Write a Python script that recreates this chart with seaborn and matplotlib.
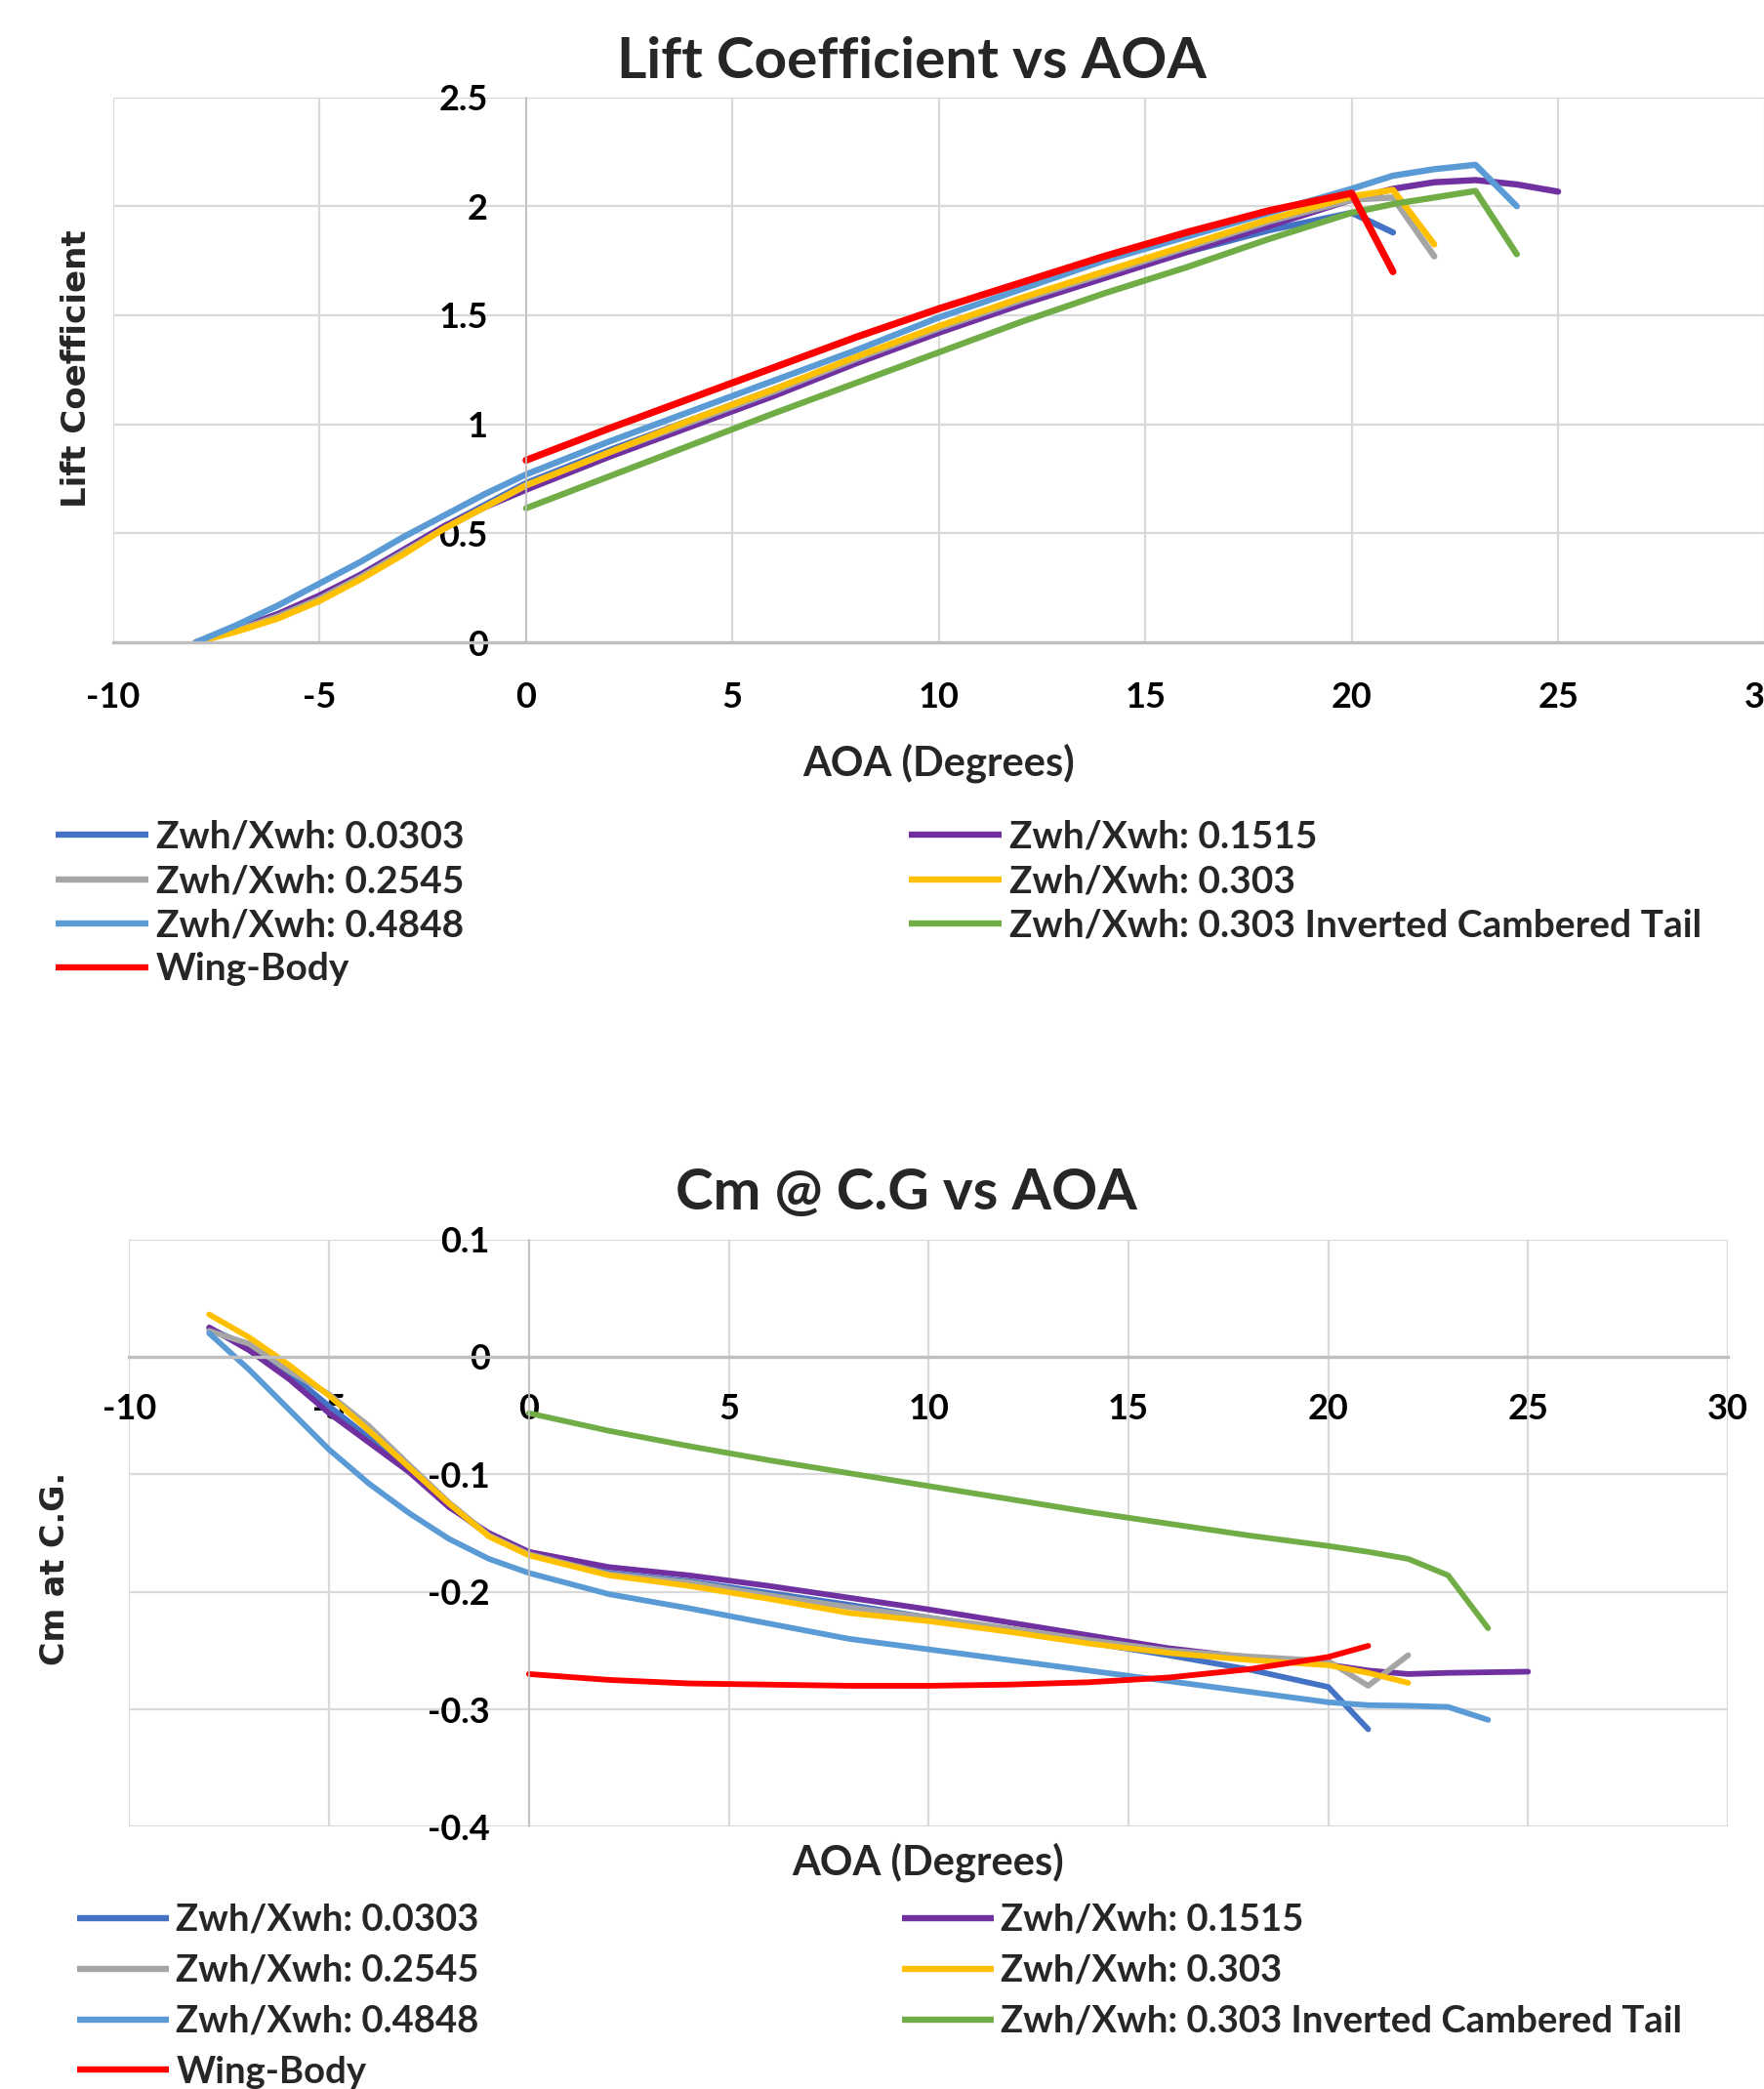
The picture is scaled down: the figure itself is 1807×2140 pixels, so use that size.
import matplotlib
matplotlib.use("Agg")
import matplotlib.pyplot as plt
import seaborn as sns
import pandas as pd

sns.set_theme(style="white")
plt.rcParams['font.family'] = ['Lato', 'DejaVu Sans']
plt.rcParams['font.weight'] = 'bold'
plt.rcParams['axes.unicode_minus'] = False

# ---------------- data ----------------
names = ['Zwh/Xwh: 0.0303', 'Zwh/Xwh: 0.1515', 'Zwh/Xwh: 0.2545', 'Zwh/Xwh: 0.303',
         'Zwh/Xwh: 0.4848', 'Zwh/Xwh: 0.303 Inverted Cambered Tail', 'Wing-Body']
colors = ['#4472C4', '#7030A0', '#A5A5A5', '#FFC000', '#5B9BD5', '#70AD47', '#FF0000']

# AOA grids (degrees); each series uses the leading part of one grid
aoa_tail = [-8, -7, -6, -5, -4, -3, -2, -1, 0, 2, 4, 6, 8, 10, 12, 14, 16, 18, 20, 21, 22, 23, 24, 25]
aoa_zero = [0, 2, 4, 6, 8, 10, 12, 14, 16, 18, 20, 21, 22, 23, 24]

# lift coefficient
cl_0303 = [0, 0.06, 0.13, 0.21, 0.31, 0.42, 0.53, 0.63, 0.73, 0.88, 1.02, 1.16, 1.30, 1.44, 1.56, 1.68, 1.79, 1.89, 1.97, 1.88]
cl_1515 = [0, 0.06, 0.13, 0.215, 0.31, 0.42, 0.53, 0.62, 0.70, 0.85, 0.99, 1.13, 1.28, 1.42, 1.55, 1.67, 1.79, 1.91, 2.03, 2.08, 2.11, 2.12, 2.10, 2.067]
cl_2545 = [0, 0.055, 0.12, 0.20, 0.30, 0.41, 0.52, 0.62, 0.72, 0.87, 1.01, 1.15, 1.30, 1.44, 1.57, 1.69, 1.81, 1.93, 2.03, 2.04, 1.77]
cl_303 = [0, 0.05, 0.11, 0.19, 0.29, 0.40, 0.52, 0.62, 0.72, 0.87, 1.02, 1.16, 1.31, 1.45, 1.58, 1.70, 1.82, 1.94, 2.045, 2.075, 1.825]
cl_4848 = [0, 0.08, 0.17, 0.27, 0.37, 0.48, 0.58, 0.68, 0.77, 0.92, 1.06, 1.20, 1.34, 1.49, 1.62, 1.75, 1.86, 1.97, 2.08, 2.14, 2.17, 2.19, 2.00]
cl_inv = [0.615, 0.76, 0.905, 1.05, 1.19, 1.33, 1.47, 1.60, 1.72, 1.85, 1.97, 2.01, 2.04, 2.07, 1.78]
cl_wb = [0.835, 0.98, 1.12, 1.26, 1.40, 1.53, 1.65, 1.77, 1.88, 1.98, 2.06, 1.70]

# pitching moment at C.G.
cm_0303 = [0.024, 0.009, -0.014, -0.042, -0.069, -0.096, -0.127, -0.152, -0.167, -0.184, -0.191, -0.201, -0.211, -0.222, -0.232, -0.243, -0.254, -0.266, -0.281, -0.317]
cm_1515 = [0.025, 0.0055, -0.019, -0.048, -0.073, -0.098, -0.128, -0.150, -0.166, -0.179, -0.186, -0.195, -0.205, -0.215, -0.226, -0.237, -0.248, -0.256, -0.262, -0.267, -0.270, -0.269, -0.2685, -0.268]
cm_2545 = [0.022, 0.011, -0.012, -0.032, -0.059, -0.092, -0.124, -0.152, -0.168, -0.185, -0.192, -0.203, -0.213, -0.222, -0.231, -0.241, -0.250, -0.255, -0.259, -0.280, -0.254]
cm_303 = [0.036, 0.0165, -0.007, -0.033, -0.063, -0.094, -0.125, -0.153, -0.169, -0.186, -0.195, -0.206, -0.218, -0.225, -0.234, -0.244, -0.252, -0.258, -0.2625, -0.269, -0.2775]
cm_4848 = [0.020, -0.011, -0.045, -0.079, -0.108, -0.133, -0.155, -0.172, -0.184, -0.202, -0.214, -0.227, -0.240, -0.249, -0.258, -0.267, -0.276, -0.285, -0.294, -0.2965, -0.297, -0.298, -0.309]
cm_inv = [-0.048, -0.063, -0.076, -0.088, -0.099, -0.110, -0.121, -0.132, -0.142, -0.152, -0.161, -0.166, -0.172, -0.186, -0.231]
cm_wb = [-0.270, -0.275, -0.278, -0.279, -0.280, -0.280, -0.279, -0.277, -0.273, -0.266, -0.2555, -0.246]

x_ticks = [-10, -5, 0, 5, 10, 15, 20, 25, 30]
x_tick_labels = ['-10', '-5', '0', '5', '10', '15', '20', '25', '30']
cl_ticks = [0, 0.5, 1, 1.5, 2, 2.5]
cl_tick_labels = ['0', '0.5', '1', '1.5', '2', '2.5']
cm_ticks = [-0.4, -0.3, -0.2, -0.1, 0, 0.1]
cm_tick_labels = ['-0.4', '-0.3', '-0.2', '-0.1', '0', '0.1']


def long_frame(series, col):
    rows = []
    for name, (grid, vals) in zip(names, series):
        for a, v in zip(grid, vals):
            rows.append({'aoa': a, col: v, 'config': name})
    return pd.DataFrame(rows)


cl_df = long_frame([(aoa_tail, cl_0303), (aoa_tail, cl_1515), (aoa_tail, cl_2545), (aoa_tail, cl_303),
                    (aoa_tail, cl_4848), (aoa_zero, cl_inv), (aoa_zero, cl_wb)], 'cl')
cm_df = long_frame([(aoa_tail, cm_0303), (aoa_tail, cm_1515), (aoa_tail, cm_2545), (aoa_tail, cm_303),
                    (aoa_tail, cm_4848), (aoa_zero, cm_inv), (aoa_zero, cm_wb)], 'cm')

palette = dict(zip(names, colors))

# ---------------- figure ----------------
W, H = 1807, 2140
fig = plt.figure(figsize=(W / 100, H / 100), dpi=100)
fig.patch.set_facecolor('white')

ax1 = fig.add_axes([116 / W, 1 - 658 / H, (1807.5 - 116) / W, (658 - 99.6) / H])
ax2 = fig.add_axes([132.4 / W, 1 - 1871.4 / H, (1770 - 132.4) / W, (1871.4 - 1269.5) / H])


def style_axes(ax, yticks, ylabels, ylim, xpad, ypad):
    ax.set_xlim(-10, 30)
    ax.set_ylim(*ylim)
    ax.set_xticks(x_ticks)
    ax.set_xticklabels(x_tick_labels)
    ax.set_yticks(yticks)
    ax.set_yticklabels(ylabels)
    ax.grid(True, color='#d9d9d9', linewidth=1.6)
    for gl in ax.get_xgridlines() + ax.get_ygridlines():
        gl.set_clip_on(False)
    ax.set_axisbelow(True)
    for s in ['top', 'right']:
        ax.spines[s].set_visible(False)
    ax.spines['left'].set_position(('data', 0))
    ax.spines['left'].set_color('#bfbfbf')
    ax.spines['left'].set_linewidth(1.2)
    ax.spines['bottom'].set_position(('data', 0))
    ax.spines['bottom'].set_color('#bfbfbf')
    ax.spines['bottom'].set_linewidth(2.4)
    ax.tick_params(axis='x', length=0, labelsize=26, pad=xpad, colors='black')
    ax.tick_params(axis='y', length=0, labelsize=26, pad=ypad, colors='black')
    ax.set_xlabel('')
    ax.set_ylabel('')


# ---- Lift coefficient ----
sns.lineplot(data=cl_df, x='aoa', y='cl', hue='config', hue_order=names, palette=palette,
             estimator=None, sort=False, linewidth=4.6, legend=False, ax=ax1,
             solid_capstyle='round', solid_joinstyle='round')
style_axes(ax1, cl_ticks, cl_tick_labels, (0, 2.5), 29, 28)
ax1.get_lines()[-1].set_linewidth(5.2)

# ---- Cm at C.G. ----
sns.lineplot(data=cm_df, x='aoa', y='cm', hue='config', hue_order=names, palette=palette,
             estimator=None, sort=False, linewidth=4.2, legend=False, ax=ax2,
             solid_capstyle='round', solid_joinstyle='round')
style_axes(ax2, cm_ticks, cm_tick_labels, (-0.4, 0.1), 27, 29)

# titles and axis labels
fig.text(934 / W, 1 - 64 / H, 'Lift Coefficient vs AOA', ha='center', va='center', fontsize=42)
fig.text(962 / W, 1 - 782 / H, 'AOA (Degrees)', ha='center', va='center', fontsize=30)
fig.text(79 / W, 1 - 378 / H, 'Lift Coefficient', ha='center', va='center', rotation=90,
         fontsize=24.5, family='DejaVu Sans')

fig.text(928 / W, 1 - 1222 / H, 'Cm @ C.G vs AOA', ha='center', va='center', fontsize=42)
fig.text(951 / W, 1 - 1908 / H, 'AOA (Degrees)', ha='center', va='center', fontsize=30)
fig.text(57 / W, 1 - 1607 / H, 'Cm at C.G.', ha='center', va='center', rotation=90,
         fontsize=24, family='DejaVu Sans')

# legends: Excel-style two columns, filled row by row
col1 = [0, 2, 4, 6]
col2 = [1, 3, 5]


def add_legends(ax, x1, x2, ytop, size, spacing):
    lines = ax.get_lines()[:len(names)]
    for idx, x in ((col1, x1), (col2, x2)):
        leg = fig.legend([lines[i] for i in idx], [names[i] for i in idx],
                         loc='upper left', bbox_to_anchor=(x / W, 1 - ytop / H),
                         frameon=False, fontsize=size, handlelength=2.45, handletextpad=0.2,
                         labelspacing=spacing, borderpad=0, borderaxespad=0)
        for h in leg.legend_handles:
            h.set_linewidth(4.6)
            h.set_solid_capstyle('butt')


add_legends(ax1, 57, 931, 840, 28, 0.26)
add_legends(ax2, 79, 924, 1950, 27.5, 0.47)

fig.savefig('out.png', dpi=100)
